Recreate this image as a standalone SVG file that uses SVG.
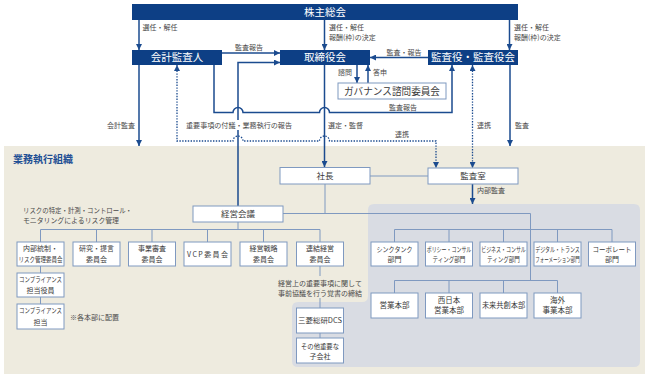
<svg xmlns="http://www.w3.org/2000/svg" width="648" height="378" viewBox="0 0 648 378">
<defs>
<style>
text{font-family:"Noto Sans CJK JP","Noto Sans CJK SC",sans-serif;text-anchor:middle}
.nb{fill:#0d3f85}
.wb{fill:#fff;stroke:#7f99c0;stroke-width:1}
.tw{fill:#fff;font-size:10.5px}
.tb{fill:#3a3a3a;font-size:7px}
.lbl{fill:#4a4a4a;font-size:7px}
.c{stroke:#1b4b8f;stroke-width:1.5;fill:none}
.d{stroke:#1b4b8f;stroke-width:1.3;stroke-dasharray:1.4 1.4;fill:none}
.o{stroke:#7f99c0;stroke-width:1;fill:none}
</style>
<marker id="ah" viewBox="0 0 6 6" refX="6" refY="3" markerWidth="6" markerHeight="6" markerUnits="userSpaceOnUse" orient="auto-start-reverse">
<path d="M0,0 L6,3 L0,6 z" fill="#1b4b8f"/>
</marker>
</defs>
<rect width="648" height="378" fill="#fff"/>
<!-- backgrounds -->
<rect x="4" y="146" width="641" height="228" fill="#eeebdf"/>
<path d="M374,204 H634 Q640,204 640,210 V361 Q640,367 634,367 H298 Q292,367 292,361 V308 Q292,302 298,302 H362 Q368,302 368,296 V210 Q368,204 374,204 Z" fill="#d9dce3"/>
<text x="13" y="163" style="text-anchor:start;font-size:10px;font-weight:bold;fill:#1f4f94">業務執行組織</text>
<text x="23" y="212.5" class="lbl" style="text-anchor:start" textLength="109" lengthAdjust="spacingAndGlyphs">リスクの特定・計測・コントロール・</text>
<text x="23" y="222.5" class="lbl" style="text-anchor:start" textLength="96" lengthAdjust="spacingAndGlyphs">モニタリングによるリスク管理</text>
<text x="70" y="320" class="lbl" style="text-anchor:start">※各本部に配置</text>

<!-- connectors -->
<g id="connectors">
<line class="c" x1="139" y1="20" x2="139" y2="50" marker-end="url(#ah)"/>
<line class="c" x1="324.5" y1="20" x2="324.5" y2="50" marker-end="url(#ah)"/>
<line class="c" x1="509.5" y1="20" x2="509.5" y2="50" marker-end="url(#ah)"/>
<line class="c" x1="222" y1="53" x2="280" y2="53" marker-end="url(#ah)"/>
<path class="c" d="M238,206 V62.5 H280" marker-end="url(#ah)"/>
<line class="c" x1="428" y1="57.5" x2="370" y2="57.5" marker-end="url(#ah)"/>
<line class="c" x1="357" y1="65" x2="357" y2="83" marker-end="url(#ah)"/>
<line class="c" x1="368" y1="83" x2="368" y2="65" marker-end="url(#ah)"/>
<path class="c" d="M214,65 V112.5 H233 A5,5 0 0 1 243,112.5 H319.5 A5,5 0 0 1 329.5,112.5 H452 V65" marker-end="url(#ah)"/>
<line class="c" x1="139" y1="65" x2="139" y2="146" marker-end="url(#ah)"/>
<line class="c" x1="324.5" y1="65" x2="324.5" y2="167" marker-end="url(#ah)"/>
<line class="c" x1="510" y1="65" x2="510" y2="146" marker-end="url(#ah)"/>
<path class="d" d="M177,65 V141 H233 A5,5 0 0 1 243,141 H319.5 A5,5 0 0 1 329.5,141 H436 V168" marker-start="url(#ah)" marker-end="url(#ah)"/>
<line class="d" x1="472.5" y1="65" x2="472.5" y2="168" marker-start="url(#ah)" marker-end="url(#ah)"/>
<line class="c" x1="472.5" y1="184" x2="472.5" y2="204" marker-end="url(#ah)"/>
<!-- org lines -->
<line class="o" x1="370" y1="176" x2="428" y2="176"/>
<path class="o" d="M325,184 V213.5 M283,213.5 H530.5 V280.5"/>
<path class="o" d="M394.5,242 V229.5 H612 V242 M449,229.5 V242 M503.5,229.5 V242 M557.5,229.5 V242"/>
<path class="o" d="M394.5,293 V280.5 H557.5 V293 M449,280.5 V293 M503.5,280.5 V293"/>
<path class="o" d="M238,222 V229.5 M40.5,242 V229.5 H320 V242 M96.5,229.5 V242 M152,229.5 V242 M207.5,229.5 V242 M263.5,229.5 V242"/>
<path class="o" d="M40.5,266 V273 M40.5,297 V304"/>
<path class="o" d="M320,266 V276 M320,298 V308 M320,333 V338"/>
</g>

<!-- connector labels -->
<g id="labels">
<text class="lbl" x="160" y="30">選任・解任</text>
<text class="lbl" x="329" y="30" style="text-anchor:start">選任・解任</text>
<text class="lbl" x="329" y="40" style="text-anchor:start">報酬(枠)の決定</text>
<text class="lbl" x="514" y="30" style="text-anchor:start">選任・解任</text>
<text class="lbl" x="514" y="40" style="text-anchor:start">報酬(枠)の決定</text>
<text class="lbl" x="249" y="49.5">監査報告</text>
<text class="lbl" x="404" y="54.5">監査・報告</text>
<text class="lbl" x="345" y="74.5">諮問</text>
<text class="lbl" x="380" y="74.5">答申</text>
<text class="lbl" x="403" y="109.5">監査報告</text>
<text class="lbl" x="121" y="128">会計監査</text>
<rect x="185" y="120" width="108" height="10" fill="#fff"/>
<text class="lbl" x="239" y="128" textLength="106" lengthAdjust="spacingAndGlyphs">重要事項の付議・業務執行の報告</text>
<text class="lbl" x="328" y="128" style="text-anchor:start">選定・監督</text>
<text class="lbl" x="402" y="136.5">連携</text>
<text class="lbl" x="477" y="128" style="text-anchor:start">連携</text>
<text class="lbl" x="515" y="128" style="text-anchor:start">監査</text>
<text class="lbl" x="477" y="193" style="text-anchor:start">内部監査</text>
<text class="lbl" x="320" y="285.5">経営上の重要事項に関して</text>
<text class="lbl" x="320" y="295.5">事前協議を行う覚書の締結</text>
</g>

<!-- nodes -->
<g id="n-shareholders"><rect class="nb" x="132" y="4" width="386" height="16"/><text class="tw" x="325" y="15.8">株主総会</text></g>
<g id="n-auditor"><rect class="nb" x="132" y="50" width="90" height="15"/><text class="tw" x="177" y="61.3">会計監査人</text></g>
<g id="n-board"><rect class="nb" x="280" y="50" width="90" height="15"/><text class="tw" x="325" y="61.3">取締役会</text></g>
<g id="n-kansayaku"><rect class="nb" x="428" y="50" width="90" height="15"/><text class="tw" x="473" y="61.3">監査役・監査役会</text></g>
<g id="n-governance"><rect class="wb" x="338" y="83" width="108" height="16"/><text x="392" y="95" style="font-size:10px;fill:#3a3a3a" textLength="96" lengthAdjust="spacingAndGlyphs">ガバナンス諮問委員会</text></g>
<g id="n-president"><rect class="wb" x="280" y="167.5" width="90" height="16.5"/><text class="tb" x="325" y="179" style="font-size:8.5px">社長</text></g>
<g id="n-auditoffice"><rect class="wb" x="428" y="168" width="90" height="16"/><text class="tb" x="473" y="179" style="font-size:8.5px">監査室</text></g>
<g id="n-mgmt"><rect class="wb" x="193" y="206" width="90" height="16"/><text class="tb" x="238" y="217" style="font-size:8.5px">経営会議</text></g>

<g id="n-c1"><rect class="wb" x="17" y="242" width="47" height="24"/><text class="tb" x="40.5" y="251">内部統制・</text><text class="tb" x="40.5" y="261.5" textLength="44" lengthAdjust="spacingAndGlyphs">リスク管理委員会</text></g>
<g id="n-c2"><rect class="wb" x="73" y="242" width="47" height="24"/><text class="tb" x="96.5" y="251">研究・提言</text><text class="tb" x="96.5" y="261.5">委員会</text></g>
<g id="n-c3"><rect class="wb" x="128.5" y="242" width="47" height="24"/><text class="tb" x="152" y="251">事業審査</text><text class="tb" x="152" y="261.5">委員会</text></g>
<g id="n-c4"><rect class="wb" x="184" y="242" width="47" height="24"/><text class="tb" x="207.5" y="256.5" textLength="41" lengthAdjust="spacing">VCP委員会</text></g>
<g id="n-c5"><rect class="wb" x="240" y="242" width="47" height="24"/><text class="tb" x="263.5" y="251">経営戦略</text><text class="tb" x="263.5" y="261.5">委員会</text></g>
<g id="n-c6"><rect class="wb" x="296.5" y="242" width="47" height="24"/><text class="tb" x="320" y="251">連結経営</text><text class="tb" x="320" y="261.5">委員会</text></g>

<g id="n-comp1"><rect class="wb" x="17" y="273" width="47" height="24"/><text class="tb" x="40.5" y="281.5" textLength="43" lengthAdjust="spacingAndGlyphs">コンプライアンス</text><text class="tb" x="40.5" y="292.5">担当役員</text></g>
<g id="n-comp2"><rect class="wb" x="17" y="304" width="47" height="25"/><text class="tb" x="40.5" y="313" textLength="43" lengthAdjust="spacingAndGlyphs">コンプライアンス</text><text class="tb" x="40.5" y="324.5">担当</text></g>

<g id="n-dcs"><rect class="wb" x="296.5" y="308" width="47" height="25"/><text class="tb" x="320" y="323" textLength="44" lengthAdjust="spacingAndGlyphs">三菱総研DCS</text></g>
<g id="n-sub"><rect class="wb" x="296.5" y="338" width="47" height="25"/><text class="tb" x="320" y="348.5" textLength="38" lengthAdjust="spacingAndGlyphs">その他重要な</text><text class="tb" x="320" y="359">子会社</text></g>

<g id="n-d1"><rect class="wb" x="371" y="242" width="47" height="24"/><text class="tb" transform="translate(394.5,251.5) scale(0.86,1)">シンクタンク</text><text class="tb" x="394.5" y="262">部門</text></g>
<g id="n-d2"><rect class="wb" x="425.5" y="242" width="47" height="24"/><text class="tb" transform="translate(449,251.5) scale(0.71,1)">ポリシー・コンサル</text><text class="tb" transform="translate(449,262) scale(0.79,1)">ティング部門</text></g>
<g id="n-d3"><rect class="wb" x="480" y="242" width="47" height="24"/><text class="tb" transform="translate(503.5,251.5) scale(0.71,1)">ビジネス・コンサル</text><text class="tb" transform="translate(503.5,262) scale(0.79,1)">ティング部門</text></g>
<g id="n-d4"><rect class="wb" x="534" y="242" width="47" height="24"/><text class="tb" transform="translate(557.5,251.5) scale(0.71,1)">デジタル・トランス</text><text class="tb" transform="translate(557.5,262) scale(0.64,1)">フォーメーション部門</text></g>
<g id="n-d5"><rect class="wb" x="588.5" y="242" width="47" height="24"/><text class="tb" transform="translate(612,251.5) scale(0.93,1)">コーポレート</text><text class="tb" x="612" y="262">部門</text></g>

<g id="n-h1"><rect class="wb" x="371" y="293" width="47" height="25"/><text class="tb" x="394.5" y="308" style="font-size:7.5px">営業本部</text></g>
<g id="n-h2"><rect class="wb" x="425.5" y="293" width="47" height="25"/><text class="tb" x="449" y="303" style="font-size:7.5px">西日本</text><text class="tb" x="449" y="313" style="font-size:7.5px">営業本部</text></g>
<g id="n-h3"><rect class="wb" x="480" y="293" width="47" height="25"/><text class="tb" transform="translate(503.5,308) scale(0.96,1)" style="font-size:7.5px">未来共創本部</text></g>
<g id="n-h4"><rect class="wb" x="534" y="293" width="47" height="25"/><text class="tb" x="557.5" y="303" style="font-size:7.5px">海外</text><text class="tb" x="557.5" y="313" style="font-size:7.5px">事業本部</text></g>
</svg>
